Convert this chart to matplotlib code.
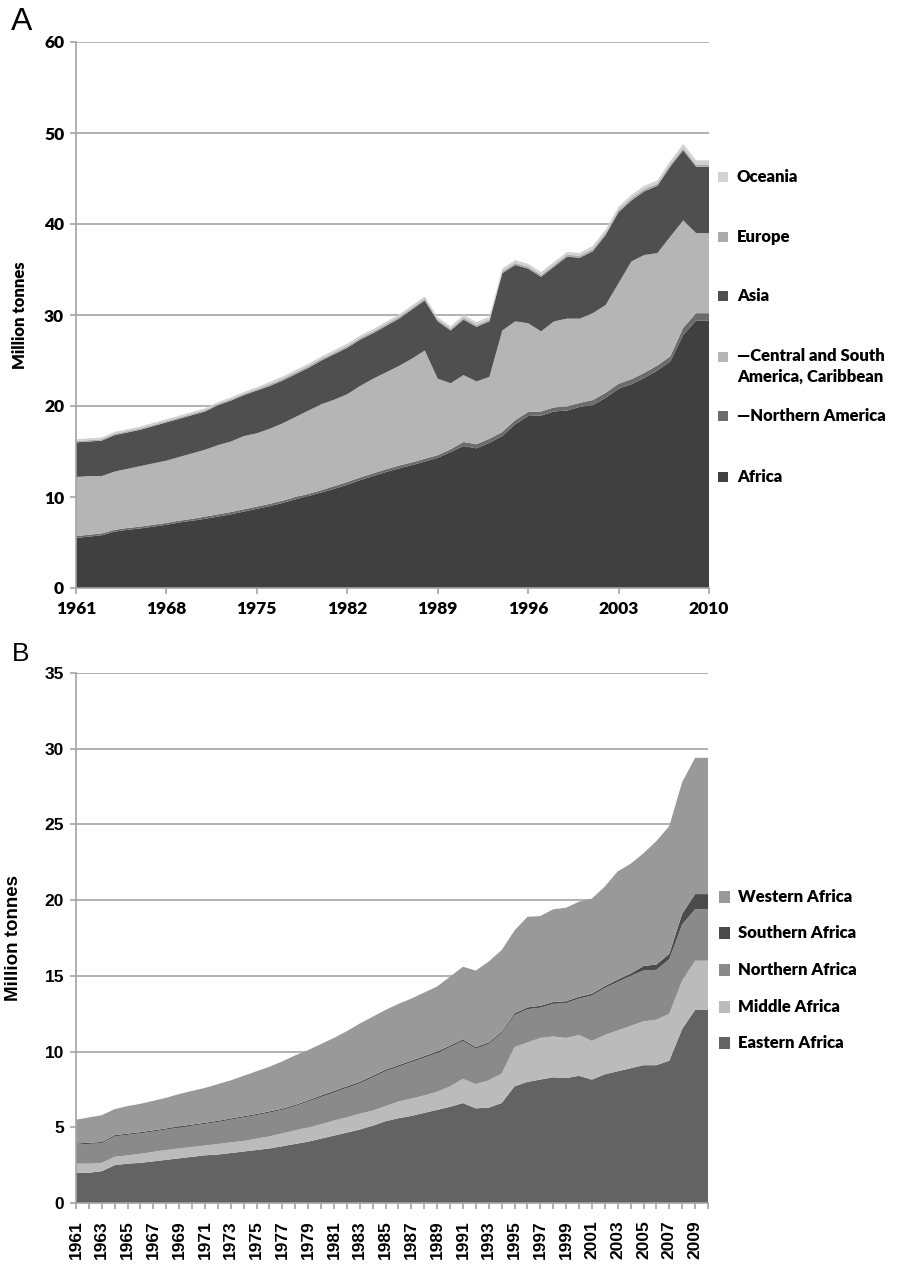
import matplotlib
matplotlib.use("Agg")
import matplotlib.pyplot as plt
from matplotlib.patches import Rectangle
import numpy as np

years = list(range(1961, 2011))

# ---- Panel B: African sub-regions, million tonnes ----
eastern_africa = [2.0, 2.0, 2.1, 2.5, 2.6, 2.65, 2.75, 2.85, 2.95, 3.05,
                  3.15, 3.2, 3.3, 3.4, 3.5, 3.6, 3.75, 3.9, 4.05, 4.25,
                  4.45, 4.65, 4.85, 5.1, 5.4, 5.6, 5.75, 5.95, 6.15, 6.35,
                  6.6, 6.25, 6.3, 6.6, 7.7, 8.0, 8.15, 8.3, 8.25, 8.4,
                  8.15, 8.5, 8.7, 8.9, 9.1, 9.1, 9.4, 11.5, 12.75, 12.75]
middle_africa = [0.6, 0.6, 0.55, 0.55, 0.55, 0.6, 0.63, 0.65, 0.65, 0.65,
                 0.65, 0.7, 0.7, 0.7, 0.75, 0.8, 0.85, 0.9, 0.95, 0.95,
                 1.0, 1.0, 1.05, 1.0, 1.0, 1.1, 1.15, 1.15, 1.2, 1.35,
                 1.6, 1.6, 1.8, 1.95, 2.6, 2.6, 2.75, 2.7, 2.65, 2.7,
                 2.55, 2.6, 2.7, 2.8, 2.9, 3.0, 3.1, 3.2, 3.25, 3.25]
northern_africa = [1.25, 1.3, 1.3, 1.35, 1.35, 1.35, 1.34, 1.35, 1.38, 1.4,
                   1.42, 1.45, 1.5, 1.55, 1.55, 1.57, 1.55, 1.6, 1.7, 1.8,
                   1.85, 1.95, 2.0, 2.2, 2.3, 2.3, 2.4, 2.5, 2.55, 2.6,
                   2.5, 2.35, 2.4, 2.65, 2.1, 2.2, 2.0, 2.15, 2.3, 2.4,
                   3.0, 3.1, 3.2, 3.3, 3.35, 3.3, 3.6, 3.7, 3.4, 3.4]
southern_africa = [0.08, 0.08, 0.08, 0.08, 0.08, 0.08, 0.08, 0.08, 0.08, 0.08,
                   0.08, 0.08, 0.08, 0.08, 0.08, 0.08, 0.08, 0.08, 0.08, 0.1,
                   0.1, 0.1, 0.1, 0.1, 0.1, 0.1, 0.1, 0.1, 0.1, 0.1,
                   0.1, 0.1, 0.1, 0.1, 0.12, 0.12, 0.12, 0.12, 0.12, 0.12,
                   0.12, 0.12, 0.15, 0.15, 0.3, 0.35, 0.35, 0.7, 1.0, 1.0]
western_africa = [1.57, 1.67, 1.77, 1.72, 1.82, 1.87, 1.95, 2.02, 2.14, 2.22,
                  2.3, 2.42, 2.52, 2.67, 2.82, 2.95, 3.12, 3.27, 3.32, 3.4,
                  3.5, 3.65, 3.85, 3.9, 3.95, 4.05, 4.1, 4.2, 4.3, 4.55,
                  4.8, 5.05, 5.35, 5.4, 5.48, 5.98, 5.93, 6.13, 6.18, 6.28,
                  6.28, 6.58, 7.15, 7.25, 7.45, 8.15, 8.45, 8.7, 9.0, 9.0]

# ---- Panel A: continents, million tonnes ----
northern_america = [0.2, 0.2, 0.2, 0.2, 0.2, 0.2, 0.2, 0.2, 0.2, 0.2,
                    0.25, 0.25, 0.25, 0.25, 0.25, 0.25, 0.25, 0.25, 0.25, 0.25,
                    0.3, 0.3, 0.3, 0.3, 0.3, 0.3, 0.3, 0.3, 0.3, 0.3,
                    0.45, 0.45, 0.45, 0.45, 0.45, 0.45, 0.45, 0.45, 0.45, 0.45,
                    0.55, 0.55, 0.55, 0.55, 0.55, 0.55, 0.55, 0.8, 0.8, 0.8]
central_south_america = [6.5, 6.45, 6.3, 6.4, 6.5, 6.65, 6.75, 6.85, 7.0, 7.2,
                         7.35, 7.6, 7.75, 8.05, 8.05, 8.25, 8.5, 8.8, 9.15, 9.45,
                         9.5, 9.65, 10.05, 10.4, 10.65, 10.95, 11.4, 11.9, 8.4, 7.25,
                         7.35, 6.9, 6.8, 11.15, 10.85, 9.75, 8.8, 9.45, 9.65, 9.25,
                         9.55, 9.65, 11.05, 12.95, 12.95, 12.35, 13.15, 11.8, 8.8, 8.8]
asia = [3.8, 3.8, 3.9, 4.0, 4.0, 4.0, 4.1, 4.2, 4.2, 4.2,
        4.2, 4.4, 4.5, 4.5, 4.7, 4.7, 4.7, 4.7, 4.7, 4.8,
        5.0, 5.1, 5.1, 5.0, 5.1, 5.2, 5.4, 5.5, 6.3, 5.8,
        6.1, 6.0, 6.1, 6.3, 6.2, 6.0, 6.0, 6.0, 6.8, 6.7,
        6.8, 7.7, 7.8, 6.7, 7.0, 7.4, 7.7, 7.7, 7.3, 7.3]
europe = [0.15, 0.15, 0.15, 0.15, 0.15, 0.15, 0.15, 0.15, 0.15, 0.15,
          0.15, 0.15, 0.15, 0.15, 0.15, 0.2, 0.2, 0.2, 0.2, 0.2,
          0.2, 0.2, 0.2, 0.2, 0.2, 0.2, 0.2, 0.2, 0.2, 0.2,
          0.22, 0.22, 0.22, 0.22, 0.22, 0.22, 0.22, 0.22, 0.22, 0.22,
          0.25, 0.25, 0.25, 0.25, 0.25, 0.25, 0.25, 0.25, 0.25, 0.25]
oceania = [0.2, 0.2, 0.2, 0.2, 0.2, 0.2, 0.2, 0.2, 0.2, 0.2,
           0.2, 0.2, 0.2, 0.2, 0.2, 0.25, 0.25, 0.25, 0.25, 0.25,
           0.25, 0.25, 0.25, 0.25, 0.25, 0.25, 0.25, 0.25, 0.25, 0.25,
           0.3, 0.3, 0.3, 0.3, 0.3, 0.3, 0.3, 0.3, 0.3, 0.3,
           0.35, 0.35, 0.35, 0.35, 0.35, 0.35, 0.35, 0.45, 0.45, 0.45]

# Africa as a whole is the sum of its sub-regions
africa = np.sum([eastern_africa, middle_africa, northern_africa,
                 southern_africa, western_africa], axis=0)

labels_a = ["Africa", "\u2014Northern America",
            "\u2014Central and South\nAmerica, Caribbean",
            "Asia", "Europe", "Oceania"]
colors_a = ["#404040", "#6c6c6c", "#b5b5b5", "#4f4f4f", "#ababab", "#d2d2d2"]

labels_b = ["Eastern Africa", "Middle Africa", "Northern Africa",
            "Southern Africa", "Western Africa"]
colors_b = ["#636363", "#bbbbbb", "#8a8a8a", "#4b4b4b", "#999999"]

W, H = 904, 1264
fig = plt.figure(figsize=(W / 100, H / 100), dpi=100)


def fx(px):
    return px / W


def fy(py):
    return 1 - py / H


GRID = "#a4a4a4"
FONT_A = "Lato"
FONT_B = "Liberation Sans"
WEIGHT = "heavy"


def style_axes(ax):
    ax.set_axisbelow(True)
    ax.grid(axis="y", color=GRID, linewidth=1.2)
    ax.grid(axis="x", visible=False)
    for s in ("top", "right"):
        ax.spines[s].set_visible(False)
    for s in ("left", "bottom"):
        ax.spines[s].set_color(GRID)
        ax.spines[s].set_linewidth(1.2)
    ax.tick_params(colors=GRID, width=1.2, length=4.5, direction="out")
    ax.set_facecolor("white")


# ---------- Panel A ----------
axA = fig.add_axes([fx(76), fy(588), fx(709) - fx(76), fy(42) - fy(588)])
style_axes(axA)
axA.stackplot(years, africa, northern_america, central_south_america,
              asia, europe, oceania, colors=colors_a, linewidth=0)
axA.set_xlim(1961, 2010)
axA.set_ylim(0, 60)
axA.set_yticks(range(0, 61, 10))
axA.set_xticks(range(1961, 2011, 7))
for lab in axA.get_xticklabels() + axA.get_yticklabels():
    lab.set_fontfamily(FONT_A)
    lab.set_fontweight(WEIGHT)
    lab.set_fontsize(12.5)
    lab.set_color("black")
axA.tick_params(axis="x", pad=5)
axA.tick_params(axis="y", pad=4)
axA.set_ylabel("Million tonnes", fontfamily=FONT_A, fontweight=WEIGHT,
               fontsize=12)
axA.yaxis.set_label_coords((fx(28) - fx(76)) / (fx(709) - fx(76)), 0.5)
fig.text(fx(11), fy(22), "A", fontfamily="Liberation Sans", fontsize=23,
         ha="left", va="center")

# Legend A (top entry first)
leg_a_rows = [177, 237, 296, 357, 416, 477]
for (lab, col), yy in zip(zip(labels_a[::-1], colors_a[::-1]), leg_a_rows):
    fig.patches.append(Rectangle((fx(718), fy(yy + 5)), fx(10), fy(0) - fy(10),
                                 transform=fig.transFigure, facecolor=col,
                                 edgecolor="none"))
    if "\n" in lab:
        fig.text(fx(737), fy(yy - 9), lab, fontfamily=FONT_A, fontweight=WEIGHT,
                 fontsize=12, ha="left", va="top", linespacing=1.35)
    else:
        fig.text(fx(737), fy(yy), lab, fontfamily=FONT_A, fontweight=WEIGHT,
                 fontsize=12, ha="left", va="center")

# ---------- Panel B ----------
axB = fig.add_axes([fx(76), fy(1203), fx(708) - fx(76), fy(673) - fy(1203)])
style_axes(axB)
axB.stackplot(years, eastern_africa, middle_africa, northern_africa,
              southern_africa, western_africa, colors=colors_b, linewidth=0)
axB.set_xlim(1961, 2010)
axB.set_ylim(0, 35)
axB.set_yticks(range(0, 36, 5))
axB.set_xticks(years)
axB.set_xticklabels([str(y) if (y - 1961) % 2 == 0 else "" for y in years],
                    rotation=90)
for lab in axB.get_xticklabels() + axB.get_yticklabels():
    lab.set_fontfamily(FONT_B)
    lab.set_fontweight("bold")
    lab.set_fontsize(12.5)
    lab.set_color("black")
axB.tick_params(axis="x", pad=8)
axB.tick_params(axis="y", pad=4)
axB.set_ylabel("Million tonnes", fontfamily=FONT_B, fontweight="bold",
               fontsize=13.5)
axB.yaxis.set_label_coords((fx(22) - fx(76)) / (fx(708) - fx(76)), 0.5)
fig.text(fx(12), fy(654), "B", fontfamily="Liberation Sans", fontsize=19,
         ha="left", va="center")

# Legend B (top entry first)
leg_b_rows = [897, 933, 970, 1007, 1043]
for (lab, col), yy in zip(zip(labels_b[::-1], colors_b[::-1]), leg_b_rows):
    fig.patches.append(Rectangle((fx(719), fy(yy + 6)), fx(11), fy(0) - fy(12),
                                 transform=fig.transFigure, facecolor=col,
                                 edgecolor="none"))
    fig.text(fx(738), fy(yy), lab, fontfamily=FONT_A, fontweight=WEIGHT,
             fontsize=12, ha="left", va="center")

fig.savefig("out.png", dpi=100, facecolor="white")
